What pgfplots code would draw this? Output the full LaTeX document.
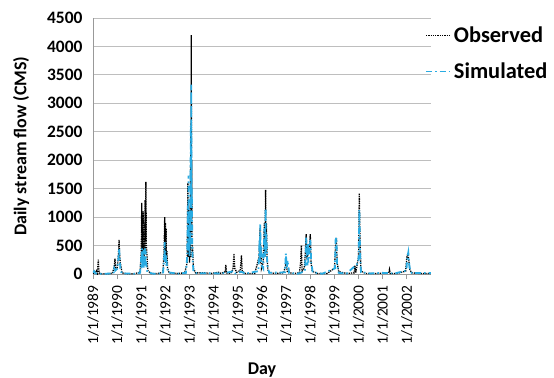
\documentclass[border=0pt]{standalone}
\usepackage{pgfplots}
\pgfplotsset{compat=1.18}
\usepackage{fontspec}
\setmainfont{Carlito}
\definecolor{simcol}{RGB}{41,171,226}
\definecolor{gridcol}{RGB}{190,190,190}
\begin{document}
\begin{tikzpicture}
\useasboundingbox (-93bp,-104bp) rectangle (461bp,274bp);
\begin{axis}[
  scale only axis,
  width=338bp, height=256bp,
  xmin=1989, xmax=2003,
  ymin=0, ymax=4500,
  ytick={0,500,...,4500},
  xtick={1989,...,2002},
  xticklabels={1/1/1989,1/1/1990,1/1/1991,1/1/1992,1/1/1993,1/1/1994,1/1/1995,1/1/1996,1/1/1997,1/1/1998,1/1/1999,1/1/2000,1/1/2001,1/1/2002},
  /pgf/number format/assume math mode=true,
  /pgf/number format/1000 sep={},
  axis lines*=left,
  axis line style={draw=gray!80, line width=0.8bp, -},
  ymajorgrids,
  grid style={draw=gridcol, line width=0.8bp},
  ytick style={draw=none},
  xtick style={draw=gray!80, line width=0.8bp},
  tick align=outside,
  major tick length=5bp,
  yticklabel style={font=\bfseries\fontsize{17.5}{17.5}\selectfont, xshift=-2bp},
  xticklabel style={font=\fontsize{15.5}{15.5}\selectfont, rotate=90, anchor=east, xshift=-3bp},
  ylabel={Daily stream flow (CMS)},
  xlabel={Day},
  ylabel shift=11bp,
  xlabel shift=12bp,
  ylabel style={font=\bfseries\fontsize{18}{18}\selectfont},
  xlabel style={font=\bfseries\fontsize{18}{18}\selectfont},
  legend style={at={(0.982,0.975)}, anchor=north west, draw=none, fill=none,
    font=\bfseries\fontsize{22.5}{22.5}\selectfont, row sep=15bp, inner xsep=0pt, inner ysep=0pt,
    legend cell align=left},
  legend image code/.code={\draw[#1] (0bp,0bp) -- (25bp,0bp);},
]
\addplot[black, densely dotted, line width=1.3bp] coordinates {
(1989.00,10) (1989.10,30) (1989.15,60) (1989.18,10) (1989.22,250) (1989.25,20) (1989.35,5) (1989.6,5) (1989.8,10)
(1989.88,120) (1989.91,270) (1989.94,80) (1990.00,100) (1990.05,300) (1990.08,600) (1990.10,350) (1990.13,200)
(1990.17,110) (1990.20,20) (1990.4,5) (1990.7,5) (1990.95,30) (1991.00,400) (1991.02,1250) (1991.03,300) (1991.05,800)
(1991.06,200) (1991.08,1100) (1991.10,500) (1991.12,150) (1991.13,900) (1991.15,400) (1991.16,1300) (1991.18,600) (1991.19,1620) (1991.21,500) (1991.24,300) (1991.27,60)
(1991.4,10) (1991.7,10) (1991.9,30) (1991.95,500) (1991.97,1000) (1991.98,300) (1992.00,900) (1992.01,200) (1992.03,800) (1992.04,250) (1992.06,400)
(1992.09,100) (1992.15,20) (1992.5,10) (1992.8,20) (1992.9,200) (1992.93,1600) (1992.94,300) (1992.96,1200) (1992.97,400) (1992.99,600)
(1993.00,200) (1993.02,1000) (1993.03,300) (1993.05,2500) (1993.06,800) (1993.07,4200) (1993.08,1000) (1993.09,2000) (1993.10,300) (1993.12,500) (1993.16,100) (1993.25,20) (1993.6,20)
(1993.9,10) (1994.2,30) (1994.3,10) (1994.48,40) (1994.50,160) (1994.53,20) (1994.7,10) (1994.80,80) (1994.84,360)
(1994.87,100) (1994.95,30) (1995.10,60) (1995.15,330) (1995.18,50) (1995.3,10) (1995.7,10) (1995.88,300)
(1995.92,800) (1995.93,200) (1995.95,500) (1995.98,100) (1996.05,200) (1996.10,900) (1996.12,300) (1996.15,1480) (1996.16,400) (1996.18,900) (1996.21,300)
(1996.25,40) (1996.5,10) (1996.9,20) (1997.0,200) (1997.05,30) (1997.3,10) (1997.55,20) (1997.60,200) (1997.63,500)
(1997.66,50) (1997.75,100) (1997.80,400) (1997.83,700) (1997.86,300) (1997.92,350) (1997.97,500) (1998.00,700)
(1998.03,200) (1998.08,50) (1998.3,10) (1998.7,10) (1999.0,100) (1999.05,500) (1999.08,640) (1999.11,200)
(1999.18,40) (1999.5,10) (1999.82,20) (1999.85,150) (1999.88,20) (2000.00,300) (2000.03,1420) (2000.06,600)
(2000.10,50) (2000.3,10) (2000.8,10) (2001.25,20) (2001.28,80) (2001.31,10) (2001.6,10) (2001.95,50) (2002.00,300)
(2002.04,350) (2002.08,250) (2002.12,80) (2002.2,20) (2002.5,10) (2003.0,10)
};
\addlegendentry{Observed}
\addplot[simcol, dash pattern=on 6bp off 3bp on 1.5bp off 3bp, line width=1.8bp] coordinates {
(1989.00,30) (1989.05,50) (1989.10,10) (1989.3,5) (1989.5,5) (1989.85,10) (1989.88,100) (1989.92,60) (1990.00,90)
(1990.05,250) (1990.08,450) (1990.11,250) (1990.14,60) (1990.2,10) (1990.8,5) (1990.95,20) (1991.00,300) (1991.01,100)
(1991.03,450) (1991.04,150) (1991.06,380) (1991.07,120) (1991.09,420) (1991.10,100) (1991.12,300) (1991.13,150) (1991.15,450) (1991.16,200) (1991.18,400) (1991.21,150) (1991.25,30)
(1991.5,5) (1991.9,10) (1991.95,300) (1991.97,560) (1991.98,200) (1992.00,400) (1992.01,150) (1992.03,350) (1992.06,150) (1992.1,30)
(1992.5,5) (1992.85,20) (1992.90,300) (1992.93,1200) (1992.94,400) (1992.96,1730) (1992.97,500) (1992.99,700) (1993.00,300) (1993.02,1100) (1993.03,500) (1993.05,2600)
(1993.06,900) (1993.07,3330) (1993.08,1200) (1993.09,1500) (1993.12,300) (1993.16,50) (1993.3,10) (1993.8,15) (1994.2,10) (1994.5,20)
(1994.84,50) (1994.9,10) (1995.15,40) (1995.3,5) (1995.85,50) (1995.90,600) (1995.91,200) (1995.93,870) (1995.94,300) (1995.96,500)
(1995.99,150) (1996.05,100) (1996.10,800) (1996.12,300) (1996.15,1150) (1996.16,400) (1996.18,700) (1996.22,150) (1996.3,20) (1996.95,30)
(1996.99,360) (1997.02,100) (1997.06,240) (1997.09,150) (1997.12,20) (1997.5,5) (1997.78,50) (1997.83,640)
(1997.86,400) (1997.88,150) (1997.90,550) (1997.92,200) (1997.95,300) (1998.00,600) (1998.04,200) (1998.1,30) (1998.5,5) (1999.02,100)
(1999.05,600) (1999.08,640) (1999.11,150) (1999.18,20) (1999.5,5) (2000.00,200) (2000.03,1130) (2000.06,400)
(2000.10,30) (2000.5,10) (2001.0,20) (2001.5,10) (2001.98,60) (2002.02,300) (2002.06,380) (2002.09,200)
(2002.12,100) (2002.2,20) (2003.0,15)
};
\addlegendentry{Simulated}
\end{axis}
\end{tikzpicture}
\end{document}
